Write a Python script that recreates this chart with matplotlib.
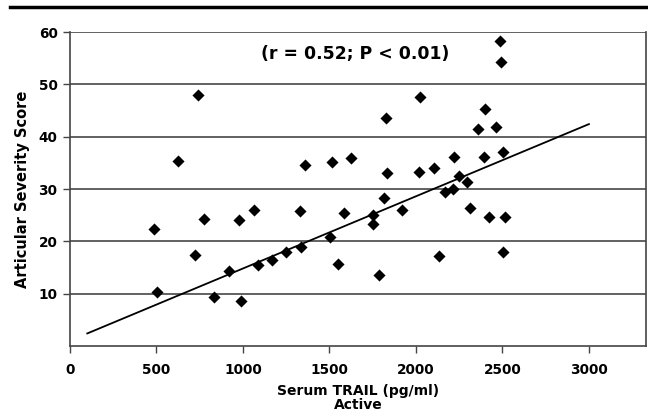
import matplotlib
matplotlib.use("Agg")
import matplotlib.pyplot as plt
from matplotlib.lines import Line2D

trail = [487, 502, 627, 720, 738, 772, 833, 917, 975, 991,
         1062, 1088, 1169, 1251, 1333, 1327, 1358, 1506, 1512, 1549,
         1583, 1622, 1752, 1752, 1786, 1815, 1827, 1835, 1922, 2018,
         2024, 2105, 2134, 2167, 2212, 2221, 2250, 2294, 2312, 2356,
         2395, 2400, 2424, 2462, 2487, 2493, 2501, 2505, 2515]
score = [22.4, 10.3, 35.4, 17.3, 48.0, 24.2, 9.3, 14.4, 24.0, 8.6,
         25.9, 15.4, 16.4, 17.9, 19.0, 25.8, 34.5, 20.9, 35.2, 15.7,
         25.4, 35.9, 25.0, 23.3, 13.6, 28.2, 43.5, 33.0, 25.9, 33.3,
         47.6, 34.1, 17.2, 29.4, 30.0, 36.2, 32.5, 31.4, 26.4, 41.5,
         36.2, 45.3, 24.7, 41.9, 58.3, 54.2, 17.9, 37.0, 24.7]
fit_x = [100, 3000]
fit_y = [2.4, 42.4]
x_ticks = [0, 500, 1000, 1500, 2000, 2500, 3000]
y_ticks = [10, 20, 30, 40, 50, 60]
annotation = "(r = 0.52; P < 0.01)"

plt.rcParams['font.family'] = ['DejaVu Sans']
plt.rcParams['font.weight'] = 'bold'

fig = plt.figure(figsize=(6.48, 4.19), dpi=100)
ax = fig.add_axes([70/648, 1-346/419, (646-70)/648, (346-32)/419])

for yv in y_ticks:
    ax.axhline(yv, color='#555555', lw=1.3, zorder=1)

ax.plot(fit_x, fit_y, color='black', lw=1.3, zorder=2)
ax.scatter(trail, score, marker='D', s=38, color='black', zorder=3, linewidths=0)

ax.set_xlim(0, 3330)
ax.set_ylim(0, 60)
ax.set_xticks(x_ticks)
ax.set_yticks(y_ticks)
ax.set_xticklabels([str(v) for v in x_ticks], fontsize=9.8, fontweight='bold')
ax.set_yticklabels([str(v) for v in y_ticks], fontsize=9.8, fontweight='bold')
ax.tick_params(axis='both', direction='out', length=5, width=1, color='#444444')
ax.tick_params(axis='y', pad=4)
ax.tick_params(axis='x', pad=7)

for side in ['left', 'bottom', 'right']:
    ax.spines[side].set_color('#444444')
    ax.spines[side].set_linewidth(1.2)
ax.spines['top'].set_visible(False)

ax.set_xlabel("Serum TRAIL (pg/ml)\nActive", fontsize=10, fontweight='bold', labelpad=5, linespacing=1.0)
ax.set_ylabel("Articular Severity Score", fontsize=10.5, fontweight='bold', labelpad=6)

ax.text(1650, 55.8, annotation, fontsize=12.4, fontweight='bold', ha='center', va='center')

fig.add_artist(Line2D([10/648, 1.0], [1-7/419, 1-7/419], color='black', lw=2.5, transform=fig.transFigure))

fig.savefig("out.png", dpi=100)
